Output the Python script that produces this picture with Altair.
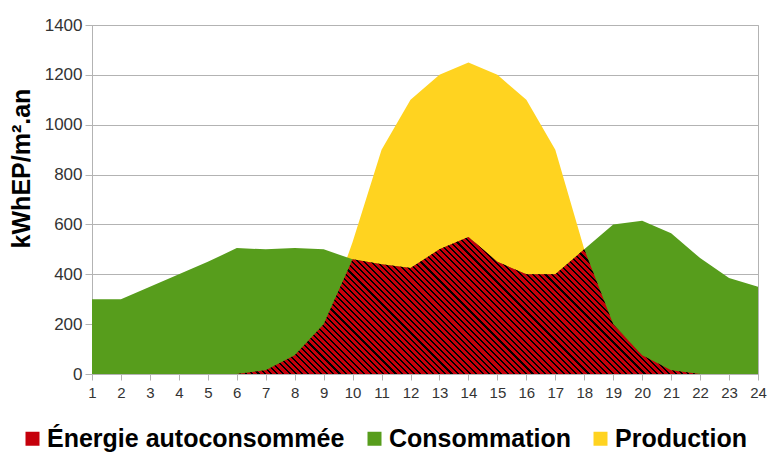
import math
import altair as alt
import pandas as pd

# ---- data ----
hours = list(range(1, 25))
series_names = ["Énergie autoconsommée", "Consommation", "Production"]
consommation = [300, 300, 350, 400, 450, 505, 500, 505, 500, 460, 440, 425,
                500, 550, 450, 400, 400, 500, 600, 615, 565, 465, 385, 350]
autoconsommee = [0, 0, 0, 0, 0, 0, 15, 75, 200, 460, 440, 425,
                 500, 550, 450, 400, 400, 500, 200, 75, 15, 0, 0, 0]
production = [0, 0, 0, 0, 0, 0, 15, 75, 200, 530, 900, 1100,
              1200, 1250, 1200, 1100, 900, 500, 200, 75, 15, 0, 0, 0]
y_ticks = [0, 200, 400, 600, 800, 1000, 1200, 1400]
colors = ["#c5000b", "#579d1c", "#ffd320"]

rows = []
for name, vals in zip(series_names, [autoconsommee, consommation, production]):
    for h, v in zip(hours, vals):
        rows.append({"heure": h, "serie": name, "valeur": v})
df = pd.DataFrame(rows)

W, H = 666, 349

# ---- hatch gradient (stripes at 45 degrees in pixel space) ----
bw = W
bh = max(autoconsommee) / 1400 * H
r = bh / bw
s = (1 + r) / (1 + r * r)
span = (bw + bh) / math.sqrt(2)
period = 4.4
n = int(span / period)
stops = []
for i in range(n):
    a = i / n
    b = (i + 0.66) / n
    c = (i + 1) / n
    stops += [alt.GradientStop(offset=a, color="rgba(0,0,0,0)"),
              alt.GradientStop(offset=b, color="rgba(0,0,0,0)"),
              alt.GradientStop(offset=b, color="#000000"),
              alt.GradientStop(offset=c, color="#000000")]
hatch_fill = alt.LinearGradient(gradient="linear", stops=stops,
                                x1=0, y1=1, x2=s, y2=1 - s * r)

color_scale = alt.Scale(domain=series_names, range=colors)

base = alt.Chart(df).encode(
    x=alt.X("heure:Q",
            scale=alt.Scale(domain=[1, 24], nice=False, zero=False),
            axis=alt.Axis(values=hours, title=None, grid=False, format="d",
                          tickSize=6, labelPadding=5, labelFlush=False,
                          labelFontSize=15)),
    y=alt.Y("valeur:Q", stack=None,
            scale=alt.Scale(domain=[0, 1400], nice=False),
            axis=alt.Axis(values=y_ticks, title="kWhEP/m².an", tickSize=7,
                          format="d", labelPadding=3, labelFontSize=17,
                          titleX=-71, titleY=143, titleBaseline="middle",
                          titleAngle=270)),
)

legend = alt.Legend(title=None, orient="none", direction="horizontal",
                    legendX=-72, legendY=401, symbolType="square",
                    symbolSize=196, symbolStrokeWidth=0, labelFontSize=25,
                    labelFontWeight="bold", labelColor="#000000",
                    labelFont="Liberation Sans", labelOffset=2,
                    columnPadding=17, labelLimit=400)

def layer(name):
    return base.transform_filter(alt.datum.serie == name).mark_area(
        interpolate="linear", opacity=1
    ).encode(color=alt.Color("serie:N", scale=color_scale, legend=legend))

hatch = base.transform_filter(alt.datum.serie == series_names[0]).mark_area(
    interpolate="linear", opacity=1, fill=hatch_fill)

chart = alt.layer(
    layer("Production"), layer("Consommation"), layer("Énergie autoconsommée"), hatch
).properties(
    width=W, height=H,
    autosize=alt.AutoSizeParams(type="none"),
    padding={"left": 84, "top": 17, "right": 10, "bottom": 80},
).configure_view(
    stroke="#b3b3b3", strokeWidth=1
).configure_axis(
    domainColor="#b3b3b3", tickColor="#b3b3b3", gridColor="#b3b3b3",
    labelColor="#333333", labelFont="Liberation Sans",
    titleFont="Liberation Sans", titleFontSize=25, titleFontWeight="bold",
    titleColor="#000000"
)

chart.save("out.html", embed_options={"renderer": "svg", "actions": False})
